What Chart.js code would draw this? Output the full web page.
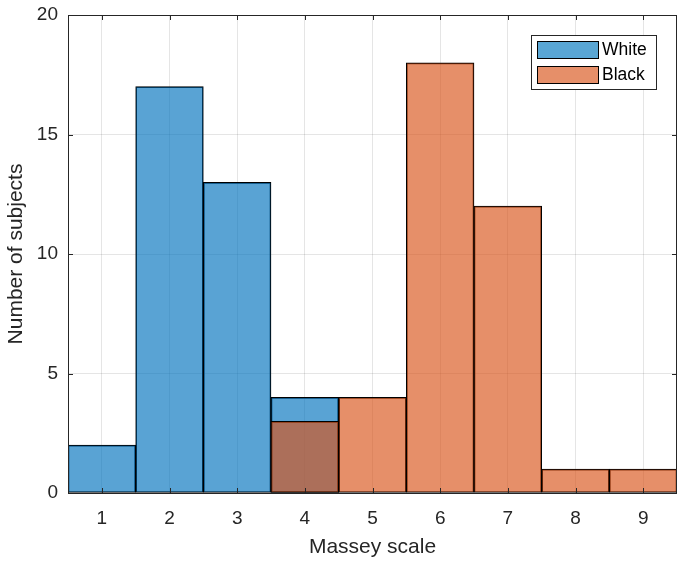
<!DOCTYPE html>
<html>
<head>
<meta charset="utf-8">
<script src="https://cdn.jsdelivr.net/npm/chart.js@4/dist/chart.umd.min.js"></script>
<style>
  html, body { margin: 0; padding: 0; background: #fff; }
  #wrap { width: 685px; height: 566px; position: relative; }
</style>
</head>
<body>
<div id="wrap"><canvas id="c" width="685" height="566"></canvas></div>
<script>
const categories = ['1', '2', '3', '4', '5', '6', '7', '8', '9'];
const whiteCounts = [2, 17, 13, 4, null, null, null, null, null];
const blackCounts = [null, null, null, 3, 4, 18, 12, 1, 1];
const yTicks = [0, 5, 10, 15, 20];
const seriesNames = ['White', 'Black'];

const FONT = '"Liberation Sans", Arial, Helvetica, sans-serif';
const AXIS_COLOR = 'rgb(38,38,38)';
const blueFill = 'rgba(0,114,189,0.65)';
const orangeFill = 'rgba(217,83,25,0.65)';
const blueSolid = 'rgb(89,166,212)';
const orangeSolid = 'rgb(230,143,105)';

const frameAndTicks = {
  id: 'frameAndTicks',
  afterDatasetsDraw(chart) {
    const ctx = chart.ctx;
    const a = chart.chartArea;
    const xs = chart.scales.x, ys = chart.scales.y;
    ctx.save();
    ctx.strokeStyle = AXIS_COLOR;
    ctx.lineWidth = 1;
    const L = 5;
    ctx.beginPath();
    categories.forEach((c, i) => {
      const px = Math.round(xs.getPixelForValue(i)) + 0.5;
      ctx.moveTo(px, a.bottom); ctx.lineTo(px, a.bottom - L);
      ctx.moveTo(px, a.top); ctx.lineTo(px, a.top + L);
    });
    yTicks.forEach(v => {
      const py = Math.round(ys.getPixelForValue(v)) + 0.5;
      ctx.moveTo(a.left, py); ctx.lineTo(a.left + L, py);
      ctx.moveTo(a.right, py); ctx.lineTo(a.right - L, py);
    });
    ctx.stroke();
    ctx.strokeRect(Math.round(a.left) + 0.5, Math.round(a.top) + 0.5,
                   Math.round(a.right - a.left) - 1, Math.round(a.bottom - a.top));
    // legend
    const bx = 531.5, by = 35.5, bw = 125, bh = 54;
    ctx.fillStyle = '#fff';
    ctx.fillRect(bx, by, bw, bh);
    ctx.strokeStyle = 'rgb(38,38,38)';
    ctx.strokeRect(bx, by, bw, bh);
    const sw = [[blueSolid, 41.5], [orangeSolid, 66.5]];
    ctx.font = '17.5px ' + FONT;
    ctx.textBaseline = 'middle';
    ctx.textAlign = 'left';
    sw.forEach((s, i) => {
      ctx.fillStyle = s[0];
      ctx.fillRect(537.5, s[1], 61, 17);
      ctx.strokeStyle = '#000';
      ctx.strokeRect(537.5, s[1], 61, 17);
      ctx.fillStyle = '#000';
      ctx.fillText(seriesNames[i], 602, s[1] + 9);
    });
    ctx.restore();
  }
};

new Chart(document.getElementById('c'), {
  type: 'bar',
  data: {
    labels: categories,
    datasets: [
      { label: seriesNames[0], data: whiteCounts, backgroundColor: blueFill,
        borderColor: '#000', borderWidth: 1, borderSkipped: false, order: 1,
        barPercentage: 1, categoryPercentage: 1, grouped: false },
      { label: seriesNames[1], data: blackCounts, backgroundColor: orangeFill,
        borderColor: '#000', borderWidth: 1, borderSkipped: false, order: 0,
        barPercentage: 1, categoryPercentage: 1, grouped: false }
    ]
  },
  options: {
    responsive: false,
    animation: false,
    devicePixelRatio: 1,
    layout: { padding: { top: 15, right: 8, left: 0, bottom: 0 } },
    plugins: { legend: { display: false }, tooltip: { enabled: false } },
    scales: {
      x: {
        grid: { offset: false, color: 'rgba(0,0,0,0.1)', drawTicks: false },
        border: { display: false },
        ticks: { color: AXIS_COLOR, font: { family: FONT, size: 19 }, padding: 14, maxRotation: 0 },
        title: { display: true, text: 'Massey scale', color: AXIS_COLOR,
                 font: { family: FONT, size: 21 }, padding: { top: 2, bottom: 6 } },
        afterFit(s) { s.height = 73; s.paddingLeft = 0; s.paddingRight = 0; }
      },
      y: {
        min: 0, max: 20,
        grid: { color: 'rgba(0,0,0,0.1)', drawTicks: false },
        border: { display: false },
        ticks: { stepSize: 5, color: AXIS_COLOR, font: { family: FONT, size: 19 }, padding: 10 },
        title: { display: true, text: 'Number of subjects', color: AXIS_COLOR,
                 font: { family: FONT, size: 21 }, padding: { top: 4, bottom: 4 } },
        afterFit(s) { s.width = 68; s.paddingTop = 0; s.paddingBottom = 0; }
      }
    }
  },
  plugins: [frameAndTicks]
});
</script>
</body>
</html>
